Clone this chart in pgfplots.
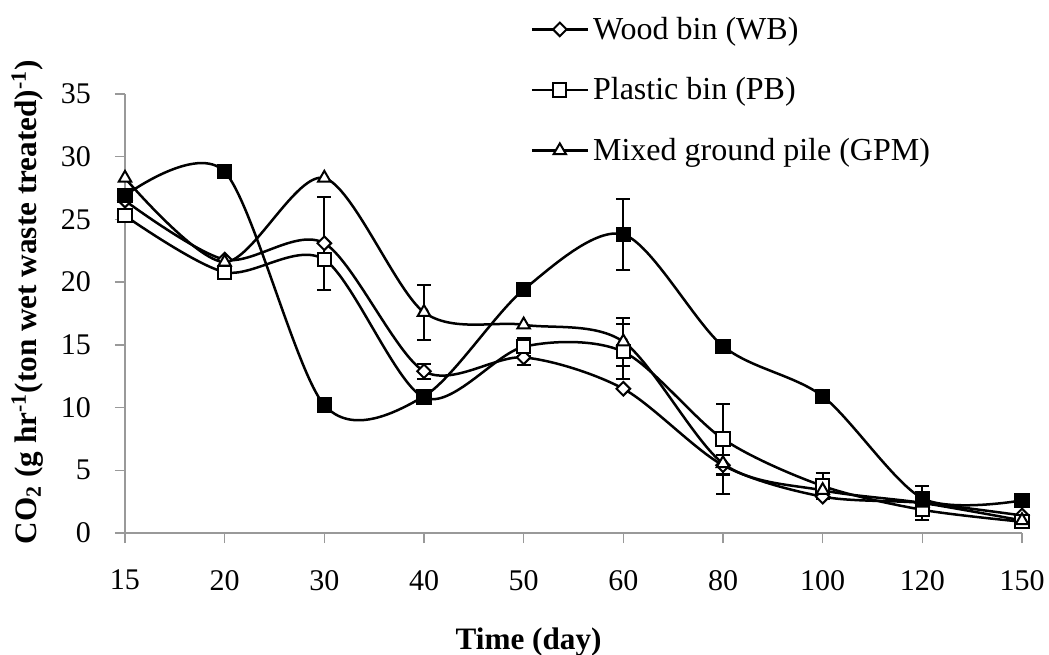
\documentclass[border=0pt]{standalone}
\usepackage{fontspec}
\setmainfont{Liberation Serif}
\usepackage{pgfplots}
\pgfplotsset{compat=1.18}
\usepackage{pgfplotstable}
\newcommand\f{\fontsize{15}{18}\selectfont}
\newcommand\fl{\fontsize{16}{19}\selectfont}

\pgfplotstableread{
x y
0 26.5
1 21.8
2 23.1
3 12.9
4 14.0
5 11.5
6 5.4
7 2.9
8 2.4
9 1.4
}\wb
\pgfplotstableread{
x y e
2 23.1 3.7
3 12.9 0.6
4 14.0 0.6
6 5.4 0.8
}\wbErr
\pgfplotstableread{
x y
0 25.3
1 20.8
2 21.8
3 10.8
4 14.85
5 14.45
6 7.5
7 3.75
8 1.85
9 0.9
}\pb
\pgfplotstableread{
x y e
4 14.85 0.7
5 14.45 2.2
6 7.5 2.8
7 3.75 1.05
8 1.85 0.8
}\pbErr
\pgfplotstableread{
x y
0 28.3
1 21.6
2 28.3
3 17.6
4 16.6
5 15.25
6 5.55
7 3.4
8 2.4
9 1.0
}\gpm
\pgfplotstableread{
x y e
3 17.6 2.2
5 15.25 1.9
6 5.55 2.45
}\gpmErr
\pgfplotstableread{
x y
0 26.9
1 28.8
2 10.2
3 10.9
4 19.4
5 23.8
6 14.9
7 10.9
8 2.77
9 2.6
}\gps
\pgfplotstableread{
x y e
5 23.8 2.8
8 2.77 1.0
}\gpsErr

\begin{document}
\begin{tikzpicture}
\begin{axis}[
  name=ax,
  scale only axis, width=448.5pt, height=219.5pt,
  xmin=0, xmax=9, ymin=0, ymax=35,
  axis lines*=left,
  axis line style={draw=gray!80, line width=0.7pt},
  xtick={0,...,9}, xticklabels={15,20,30,40,50,60,80,100,120,150},
  ytick={0,5,...,35},
  tick align=outside, major tick length=5pt,
  tick style={draw=gray!80, line width=0.7pt},
  /pgf/number format/assume math mode=true,
  tick label style={font=\f},
  xticklabel style={yshift=-10pt},
  yticklabel style={xshift=-8.5pt},
  clip=false,
  ylabel={\textbf{CO\textsubscript{2} (g hr\textsuperscript{-1}(ton wet waste treated)\textsuperscript{-1})}},
  ylabel style={font=\fontsize{15.6}{18}\selectfont, at={(ticklabel cs:0.526)}, yshift=2pt},
  xlabel={\textbf{Time (day)}},
  xlabel style={font=\fontsize{15.6}{18}\selectfont, at={(ticklabel cs:0.45)}, yshift=-12pt},
  legend style={draw=none, fill=none, at={(rel axis cs:0.445,1.195)}, anchor=north west, font=\fl, row sep=13.7pt},
  legend cell align=left,
  legend image code/.code={\draw[mark repeat=2,mark phase=2] plot coordinates {(0pt,0pt)(14pt,0pt)(28pt,0pt)};},
  errb/.style={forget plot, black, line width=1pt, only marks, mark=none,
     error bars/.cd, y dir=both, y explicit,
     error bar style={draw=black, line width=1pt},
     error mark options={rotate=90, draw=black, line width=1pt, mark size=3.5pt}},
  ser/.style={black, line width=1.25pt, smooth},
]
\addplot[errb] table[x=x,y=y,y error=e]{\wbErr};
\addplot[errb] table[x=x,y=y,y error=e]{\pbErr};
\addplot[errb] table[x=x,y=y,y error=e]{\gpmErr};
\addplot[errb] table[x=x,y=y,y error=e]{\gpsErr};

\addplot[ser, mark=square*, mark size=2.4pt, mark options={fill=white, line width=1pt, rotate=45}] table[x=x,y=y]{\wb};
\addlegendentry{Wood bin (WB)}
\addplot[ser, mark=square*, mark size=3.3pt, mark options={fill=white, line width=1pt}] table[x=x,y=y]{\pb};
\addlegendentry{Plastic bin (PB)}
\addplot[ser, mark=triangle*, mark size=3.6pt, mark options={fill=white, line width=1pt}] table[x=x,y=y]{\gpm};
\addlegendentry{Mixed ground pile (GPM)}
\addplot[ser, forget plot, mark=square*, mark size=3.3pt, mark options={fill=black, line width=1pt}] table[x=x,y=y]{\gps};
\end{axis}
\pgfresetboundingbox
\useasboundingbox ([shift={(-62.5pt,-60.5pt)}]ax.south west) rectangle ([shift={(13.5pt,47pt)}]ax.north east);
\end{tikzpicture}
\end{document}
